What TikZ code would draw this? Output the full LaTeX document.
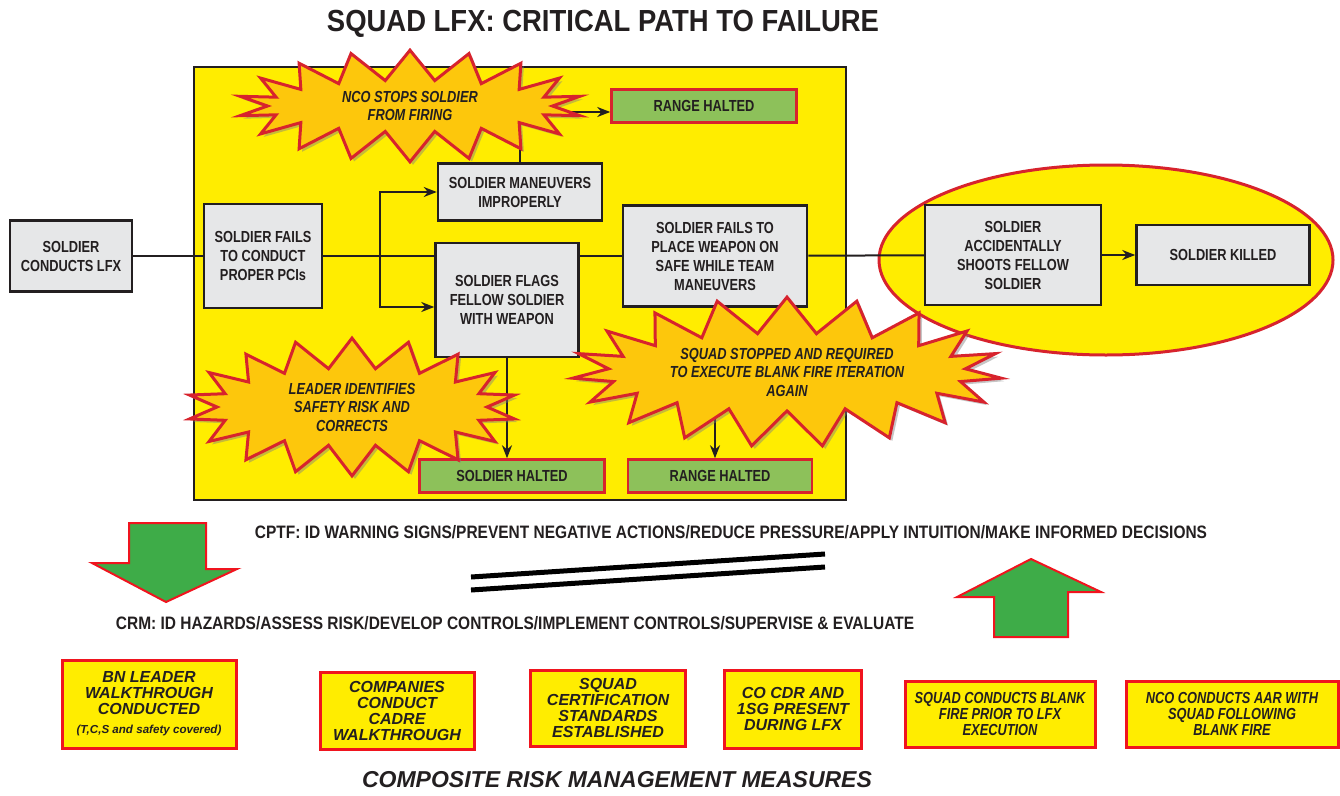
\documentclass[tikz,border=0pt]{standalone}
\usepackage{fontspec}
\setmainfont{Liberation Sans}
\newfontfamily\condfont{Liberation Sans}[FakeStretch=0.8]
\newfontfamily\titlefont{Liberation Sans}[FakeStretch=0.9]
\newfontfamily\narrowfont{Liberation Sans}[FakeStretch=0.86]
\usetikzlibrary{arrows.meta}
\usetikzlibrary{shapes.symbols}
\usetikzlibrary{shadows}
\definecolor{lfxyellow}{RGB}{255,237,0}
\definecolor{lfxgray}{RGB}{230,231,232}
\definecolor{lfxgreen}{RGB}{141,193,90}
\definecolor{lfxorange}{RGB}{253,199,12}
\definecolor{lfxred}{RGB}{215,35,45}
\definecolor{lfxbright}{RGB}{240,20,30}
\definecolor{lfxarrow}{RGB}{62,172,72}
\definecolor{lfxink}{RGB}{35,31,32}
\tikzset{
  pathbox/.style={draw=lfxink, line width=2.5pt, fill=lfxgray, align=center,
    inner sep=2pt, text=lfxink, font=\condfont\bfseries\fontsize{16}{19}\selectfont},
  haltbox/.style={draw=lfxred, line width=2.5pt, fill=lfxgreen, minimum width=185pt,
    minimum height=33pt, text=lfxink, font=\condfont\bfseries\fontsize{16}{19}\selectfont},
  burst/.style={starburst, starburst points=18, starburst point height=30pt,
    random starburst=0,
    draw=lfxred, line width=3pt, fill=lfxorange, align=center, text=lfxink,
    font=\condfont\bfseries\itshape\fontsize{16}{18.5}\selectfont,
    drop shadow={shadow xshift=3pt, shadow yshift=-3pt, opacity=0.45}},
  crmbox/.style={draw=lfxbright, line width=3pt, fill=lfxyellow, align=center,
    inner sep=2pt, text=lfxink, font=\bfseries\itshape\fontsize{16}{16}\selectfont},
  flow/.style={draw=lfxink, line width=2pt},
  link/.style={flow, -{Stealth[length=13pt,width=10pt]}},
  bigarrow/.style={draw=lfxbright, line width=2pt, fill=lfxarrow}
}
% bottom row of control measures
\newcommand{\measure}[6]{
  \node[crmbox, minimum width=#4pt, minimum height=#5pt] (#1) at (#2,#3) {#6};
}

\begin{document}
\begin{tikzpicture}[x=1pt, y=-1pt]
  \useasboundingbox (0,0) rectangle (1340,795);
  \node[font=\titlefont\bfseries\fontsize{30.5}{32}\selectfont, text=lfxink] (title) at (603,24)
    {SQUAD LFX: CRITICAL PATH TO FAILURE};

  % the critical path
  \draw[fill=lfxyellow, draw=lfxink, line width=2pt] (194,67) rectangle (846,500);
  \draw[fill=lfxyellow, draw=lfxred, line width=3pt] (1106,260) ellipse [x radius=227pt, y radius=95pt];

  \node[pathbox, minimum width=122pt, minimum height=71pt] (lfx) at (71,256) {SOLDIER\\CONDUCTS LFX};
  \node[pathbox, minimum width=118pt, minimum height=104pt] (pci) at (263,256) {SOLDIER FAILS\\TO CONDUCT\\PROPER PCIs};
  \node[pathbox, minimum width=164pt, minimum height=57pt] (maneuver) at (520,192) {SOLDIER MANEUVERS\\IMPROPERLY};
  \node[pathbox, minimum width=143pt, minimum height=114pt] (flags) at (507,300) {SOLDIER FLAGS\\FELLOW SOLDIER\\WITH WEAPON};
  \node[pathbox, minimum width=184pt, minimum height=101pt] (safe) at (715,256) {SOLDIER FAILS TO\\PLACE WEAPON ON\\SAFE WHILE TEAM\\MANEUVERS};
  \node[pathbox, minimum width=176pt, minimum height=100pt] (shoots) at (1013,255) {SOLDIER\\ACCIDENTALLY\\SHOOTS FELLOW\\SOLDIER};
  \node[pathbox, minimum width=173pt, minimum height=60pt] (killed) at (1223,255) {SOLDIER KILLED};

  \node[haltbox] (rangetop) at (704,106) {RANGE HALTED};
  \node[haltbox] (soldierhalt) at (512,476) {SOLDIER HALTED};
  \node[haltbox, minimum width=184pt] (rangebot) at (720,476) {RANGE HALTED};

  \coordinate (split) at (380,256);
  \draw[flow] (lfx) -- (pci);
  \draw[flow] (pci.east) -- (pci.east -| flags.west);
  \draw[flow] (safe.west -| flags.east) -- (safe.west);
  \draw[flow] (safe) -- (shoots);
  \draw[link] (shoots) -- (killed);
  \draw[link] (split) |- (maneuver.west);
  \draw[link] (split) |- ([yshift=-7pt]flags.west);
  \draw[link] (maneuver.north) |- ([yshift=-6pt]rangetop.west);
  \draw[link] (flags.south) -- (flags.south |- soldierhalt.north);
  \draw[link] (safe.south) -- (safe.south |- rangebot.north);

  \node[burst, minimum width=345pt, minimum height=102pt] (nco) at (410,106)
    {NCO STOPS SOLDIER\\FROM FIRING};
  \node[burst, minimum width=330pt, minimum height=110pt] (leader) at (352,407)
    {LEADER IDENTIFIES\\SAFETY RISK AND\\CORRECTS};
  \node[burst, starburst points=19, starburst point height=36pt, minimum width=430pt,
    minimum height=141pt] (squad) at (787,372)
    {SQUAD STOPPED AND REQUIRED\\TO EXECUTE BLANK FIRE ITERATION\\AGAIN};

  % CPTF versus CRM
  \node[font=\narrowfont\bfseries\fontsize{18}{20}\selectfont, text=lfxink] (cptf) at (731,532)
    {CPTF: ID WARNING SIGNS/PREVENT NEGATIVE ACTIONS/REDUCE PRESSURE/APPLY INTUITION/MAKE INFORMED DECISIONS};
  \node[font=\narrowfont\bfseries\fontsize{18}{20}\selectfont, text=lfxink] (crm) at (515,623)
    {CRM: ID HAZARDS/ASSESS RISK/DEVELOP CONTROLS/IMPLEMENT CONTROLS/SUPERVISE \& EVALUATE};
  \draw[bigarrow] (129,523) -- (206,523) -- (206,569) -- (237,569) -- (166,602) -- (92,563) -- (129,563) -- cycle;
  \draw[bigarrow] (994,637) -- (1068,637) -- (1068,592) -- (1101,592) -- (1031,559) -- (957,597) -- (994,597) -- cycle;
  \draw[line width=5pt] (471,577) -- (825,554);
  \draw[line width=5pt] (471,590) -- (825,567);

  \measure{bn}{149}{704}{174}{88}{BN LEADER\\WALKTHROUGH\\CONDUCTED\\[3pt]{\fontsize{11.6}{13}\selectfont (T,C,S and safety covered)}}
  \measure{cadre}{397}{711}{154}{77}{COMPANIES\\CONDUCT\\CADRE\\WALKTHROUGH}
  \measure{cert}{608}{708}{155}{76}{SQUAD\\CERTIFICATION\\STANDARDS\\ESTABLISHED}
  \measure{cocdr}{793}{709}{137}{78}{CO CDR AND\\1SG PRESENT\\DURING LFX}
  \measure{blank}{1000}{714}{190}{66}{\condfont SQUAD CONDUCTS BLANK\\\condfont FIRE PRIOR TO LFX\\\condfont EXECUTION}
  \measure{aar}{1232}{714}{212}{66}{\condfont NCO CONDUCTS AAR WITH\\\condfont SQUAD FOLLOWING\\\condfont BLANK FIRE}

  \node[font=\bfseries\itshape\fontsize{23}{25}\selectfont, text=lfxink] (crmtitle) at (617,780)
    {COMPOSITE RISK MANAGEMENT MEASURES};
\end{tikzpicture}
\end{document}
